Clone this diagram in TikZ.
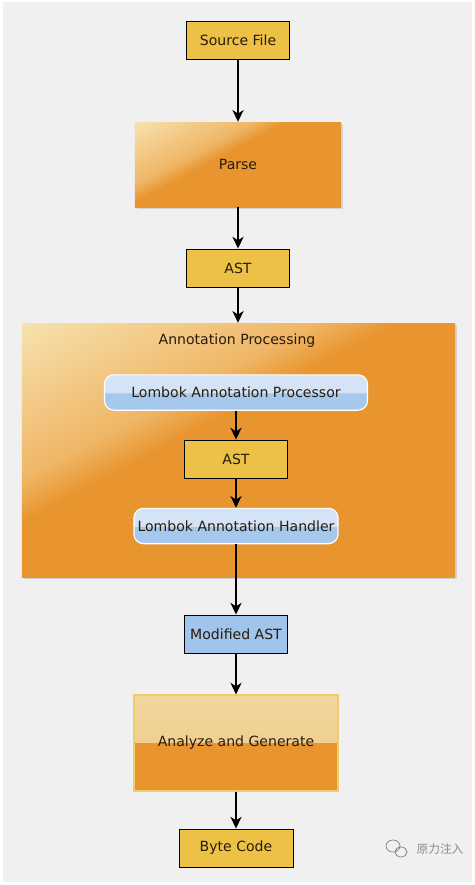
\documentclass[tikz,border=0pt]{standalone}
\usepackage{fontspec}
\setmainfont{DejaVu Sans}
\newfontfamily\cjk{Noto Sans CJK SC}
\usetikzlibrary{arrows.meta,shadows}

\definecolor{boxyellow}{RGB}{236,193,70}
\definecolor{boxorange}{RGB}{232,149,47}
\definecolor{boxlight}{RGB}{247,226,175}
\definecolor{boxmid}{RGB}{239,182,102}
\definecolor{boxtan}{RGB}{240,208,145}
\definecolor{boxtanlight}{RGB}{243,220,168}
\definecolor{boxblue}{RGB}{160,196,236}
\definecolor{bluedark}{RGB}{166,200,236}
\definecolor{bluelight}{RGB}{212,228,246}
\definecolor{backgray}{RGB}{240,240,240}
\definecolor{textdark}{RGB}{40,28,12}

\pgfdeclarehorizontalshading{glareshade}{100bp}{color(0bp)=(boxlight); color(16bp)=(boxlight); color(38bp)=(boxmid); color(44bp)=(boxorange); color(100bp)=(boxorange)}
\pgfdeclareverticalshading{analyzeshade}{100bp}{color(0bp)=(boxorange); color(50bp)=(boxorange); color(50.2bp)=(boxtan); color(100bp)=(boxtanlight)}
\pgfdeclareverticalshading{glossyshade}{100bp}{color(0bp)=(bluedark); color(49bp)=(bluedark); color(50bp)=(bluelight); color(100bp)=(bluelight)}

\begin{document}
\begin{tikzpicture}[x=0.03cm,y=-0.03cm,font=\fontsize{12}{14}\selectfont,text=textdark,
  databox/.style={draw=black,line width=0.8pt,fill=boxyellow,minimum width=3.09cm,minimum height=1.14cm,inner sep=0pt},
  stagebox/.style={draw=none,shading=glareshade,shading angle=-62,inner sep=0pt,drop shadow={opacity=0.25,shadow xshift=2pt,shadow yshift=-2pt}},
  toolbox/.style={draw=white,line width=1pt,rounded corners=8pt,shading=glossyshade,inner sep=0pt,minimum height=1.06cm},
  flow/.style={-{Stealth[length=10pt,width=9.5pt,inset=3pt]},line width=1pt}]

\fill[white] (0,0) rectangle (475,885);
\fill[backgray] (3,2) rectangle (472,882);

\node[databox] (src) at (238,40) {Source File};
\node[stagebox,minimum width=6.18cm,minimum height=2.55cm] (parse) at (238,164.5) {Parse};
\node[databox] (ast) at (238,268) {AST};

\node[stagebox,minimum width=12.99cm,minimum height=7.62cm] (annot) at (238.5,450) {};
\node (annottitle) at (237,341) {Annotation Processing};
\node[toolbox,minimum width=7.89cm] (proc) at (236,392.5) {Lombok Annotation Processor};
\node[databox] (astin) at (236,459) {AST};
\node[toolbox,minimum width=6.12cm] (handler) at (236,526) {Lombok Annotation Handler};

\node[databox,fill=boxblue] (modast) at (236,634) {Modified AST};
\node[draw=boxyellow!80!white,line width=1pt,shading=analyzeshade,minimum width=6.12cm,minimum height=2.88cm,inner sep=0pt] (gen) at (236,743) {Analyze and Generate};
\node[databox,minimum width=3.42cm] (byte) at (236,848) {Byte Code};

\draw[flow] (src) -- (parse);
\draw[flow] (parse) -- (ast);
\draw[flow] (ast) -- (ast |- annot.north);
\draw[flow] (proc) -- (astin);
\draw[flow] (astin) -- (handler);
\draw[flow] (handler) -- (modast);
\draw[flow] (modast) -- (gen);
\draw[flow] (gen) -- (byte);

\draw[gray,line width=0.6pt] (393,846) ellipse (7 and 6) (401,852) ellipse (6 and 5);
\node[text=gray!90,font=\cjk\fontsize{10}{12}\selectfont] (mark) at (440,849) {原力注入};

\end{tikzpicture}
\end{document}
